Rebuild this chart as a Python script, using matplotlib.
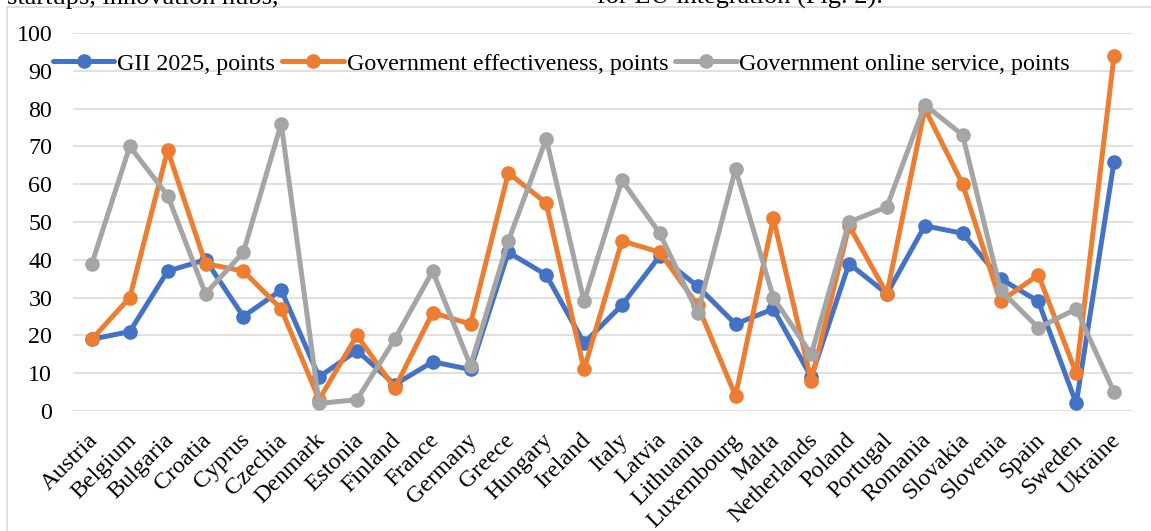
import matplotlib
matplotlib.use('Agg')
import matplotlib.pyplot as plt
from matplotlib.lines import Line2D
import matplotlib.transforms as mtransforms

# ---- data ----
countries = ["Austria", "Belgium", "Bulgaria", "Croatia", "Cyprus", "Czechia",
             "Denmark", "Estonia", "Finland", "France", "Germany", "Greece",
             "Hungary", "Ireland", "Italy", "Latvia", "Lithuania", "Luxembourg",
             "Malta", "Netherlands", "Poland", "Portugal", "Romania", "Slovakia",
             "Slovenia", "Spain", "Sweden", "Ukraine"]
gii = [19, 21, 37, 40, 25, 32, 9, 16, 7, 13, 11, 42, 36, 18, 28, 41, 33, 23,
       27, 9, 39, 31, 49, 47, 35, 29, 2, 66]
gov_eff = [19, 30, 69, 39, 37, 27, 3, 20, 6, 26, 23, 63, 55, 11, 45, 42, 28, 4,
           51, 8, 49, 31, 80, 60, 29, 36, 10, 94]
online = [39, 70, 57, 31, 42, 76, 2, 3, 19, 37, 12, 45, 72, 29, 61, 47, 26, 64,
          30, 15, 50, 54, 81, 73, 32, 22, 27, 5]
series_labels = ["GII 2025, points", "Government effectiveness, points",
                 "Government online service, points"]
series_colors = ["#4472C4", "#ED7D31", "#A5A5A5"]
yticks = list(range(0, 101, 10))

W, H = 1151, 531
FS = 17.3
plt.rcParams['font.family'] = ['Liberation Serif', 'DejaVu Serif']
fig = plt.figure(figsize=(W / 100, H / 100), dpi=100)
fig.patch.set_facecolor('white')

ax = fig.add_axes([73 / W, 120 / H, 1060 / W, 378 / H])
xs = list(range(len(countries)))
for vals, lab, col in zip([gii, gov_eff, online], series_labels, series_colors):
    ax.plot(xs, vals, color=col, lw=3.6, marker='o', markersize=9.5,
            markerfacecolor=col, markeredgecolor=col, label=lab,
            clip_on=False, solid_capstyle='round', solid_joinstyle='round')

ax.set_xlim(-0.5, len(countries) - 0.5)
ax.set_ylim(0, 100)
ax.set_yticks(yticks)
ax.set_yticklabels([str(v) for v in yticks], fontsize=FS)
ax.set_xticks(xs)
ax.set_xticklabels(countries, fontsize=FS, rotation=45, ha='right',
                   va='center', rotation_mode='anchor')
ax.tick_params(axis='y', length=0, pad=15)
ax.tick_params(axis='x', length=0, pad=18.7)
offset = mtransforms.ScaledTranslation(3 / 100, 0, fig.dpi_scale_trans)
for lbl in ax.get_xticklabels():
    lbl.set_transform(lbl.get_transform() + offset)
for s in ax.spines.values():
    s.set_visible(False)
ax.grid(axis='y', color='#D9D9D9', lw=1.1)
ax.set_axisbelow(True)

ax.legend(loc='center', bbox_to_anchor=(0.461, 0.919), ncol=3, frameon=False,
          fontsize=FS, handlelength=2.55, handletextpad=0.12,
          columnspacing=0.3, borderpad=0, borderaxespad=0)

# chart area border (left + top visible)
fig.add_artist(Line2D([7 / W, 1], [1 - 7 / H, 1 - 7 / H],
                      transform=fig.transFigure, color='#D9D9D9', lw=1.1))
fig.add_artist(Line2D([7 / W, 7 / W], [0, 1 - 7 / H],
                      transform=fig.transFigure, color='#D9D9D9', lw=1.1))

# cut-off document text above the chart
fig.text(7 / W, 1 - 4 / H, "startups, innovation hubs,", fontsize=19,
         va='baseline', ha='left')
fig.text(597 / W, 1 - 4 / H, "for EU integration (Fig. 2).", fontsize=19,
         va='baseline', ha='left')

fig.savefig('out.png', dpi=100)
